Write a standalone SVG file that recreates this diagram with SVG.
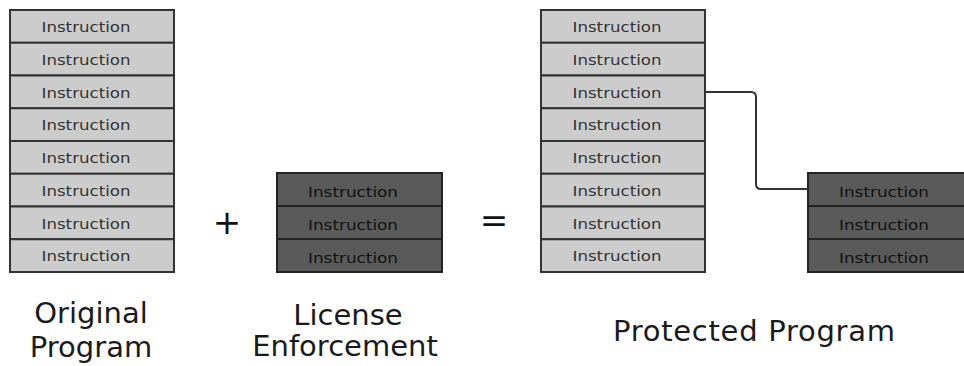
<svg xmlns="http://www.w3.org/2000/svg" width="964" height="366" viewBox="0 0 964 366">
<style>
.l{fill:#cccccc;stroke:#333;stroke-width:2}
.d{fill:#5a5a5a;stroke:#222;stroke-width:2}
.t{font-family:"DejaVu Sans",Verdana,sans-serif;font-size:14.5px;fill:#333}
.td{font-family:"DejaVu Sans",Verdana,sans-serif;font-size:14.5px;fill:#111}
.lab{font-family:"DejaVu Sans",Verdana,sans-serif;font-size:29px;fill:#1a1a1a;text-anchor:middle}
.op{font-family:"DejaVu Sans",sans-serif;font-size:34px;fill:#111;text-anchor:middle}
.c{fill:none;stroke:#333;stroke-width:2}
</style>
<defs>
<g id="li"><rect class="l" x="0" y="0" width="164" height="32.75"/><text class="t" x="31.5" y="22" textLength="89" lengthAdjust="spacingAndGlyphs">Instruction</text></g>
<g id="di"><rect class="d" x="0" y="0" width="165" height="33"/><text class="td" x="31" y="23.5" textLength="90" lengthAdjust="spacingAndGlyphs">Instruction</text></g>
</defs>
<g id="original">
<use href="#li" x="10" y="10"/>
<use href="#li" x="10" y="42.75"/>
<use href="#li" x="10" y="75.5"/>
<use href="#li" x="10" y="108.25"/>
<use href="#li" x="10" y="141"/>
<use href="#li" x="10" y="173.75"/>
<use href="#li" x="10" y="206.5"/>
<use href="#li" x="10" y="239.25"/>
<text class="lab" x="91" y="323">Original</text>
<text class="lab" x="91" y="357">Program</text>
</g>
<g id="plus"><text class="op" x="227" y="234">+</text></g>
<g id="license">
<use href="#di" x="277" y="173"/>
<use href="#di" x="277" y="206"/>
<use href="#di" x="277" y="239"/>
<text class="lab" x="348" y="325">License</text>
<text class="lab" x="345" y="356">Enforcement</text>
</g>
<g id="equals"><text class="op" x="494" y="232">=</text></g>
<g id="protected">
<use href="#li" x="541" y="10"/>
<use href="#li" x="541" y="42.75"/>
<use href="#li" x="541" y="75.5"/>
<use href="#li" x="541" y="108.25"/>
<use href="#li" x="541" y="141"/>
<use href="#li" x="541" y="173.75"/>
<use href="#li" x="541" y="206.5"/>
<use href="#li" x="541" y="239.25"/>
<text class="lab" x="754" y="341" textLength="282" lengthAdjust="spacing">Protected Program</text>
</g>
<g id="inserted">
<use href="#di" x="808" y="173"/>
<use href="#di" x="808" y="206"/>
<use href="#di" x="808" y="239"/>
</g>
<g id="connectors">
<path class="c" d="M705,92 H751 Q756,92 756,97 V184 Q756,189 761,189 H808"/>
</g>
</svg>
